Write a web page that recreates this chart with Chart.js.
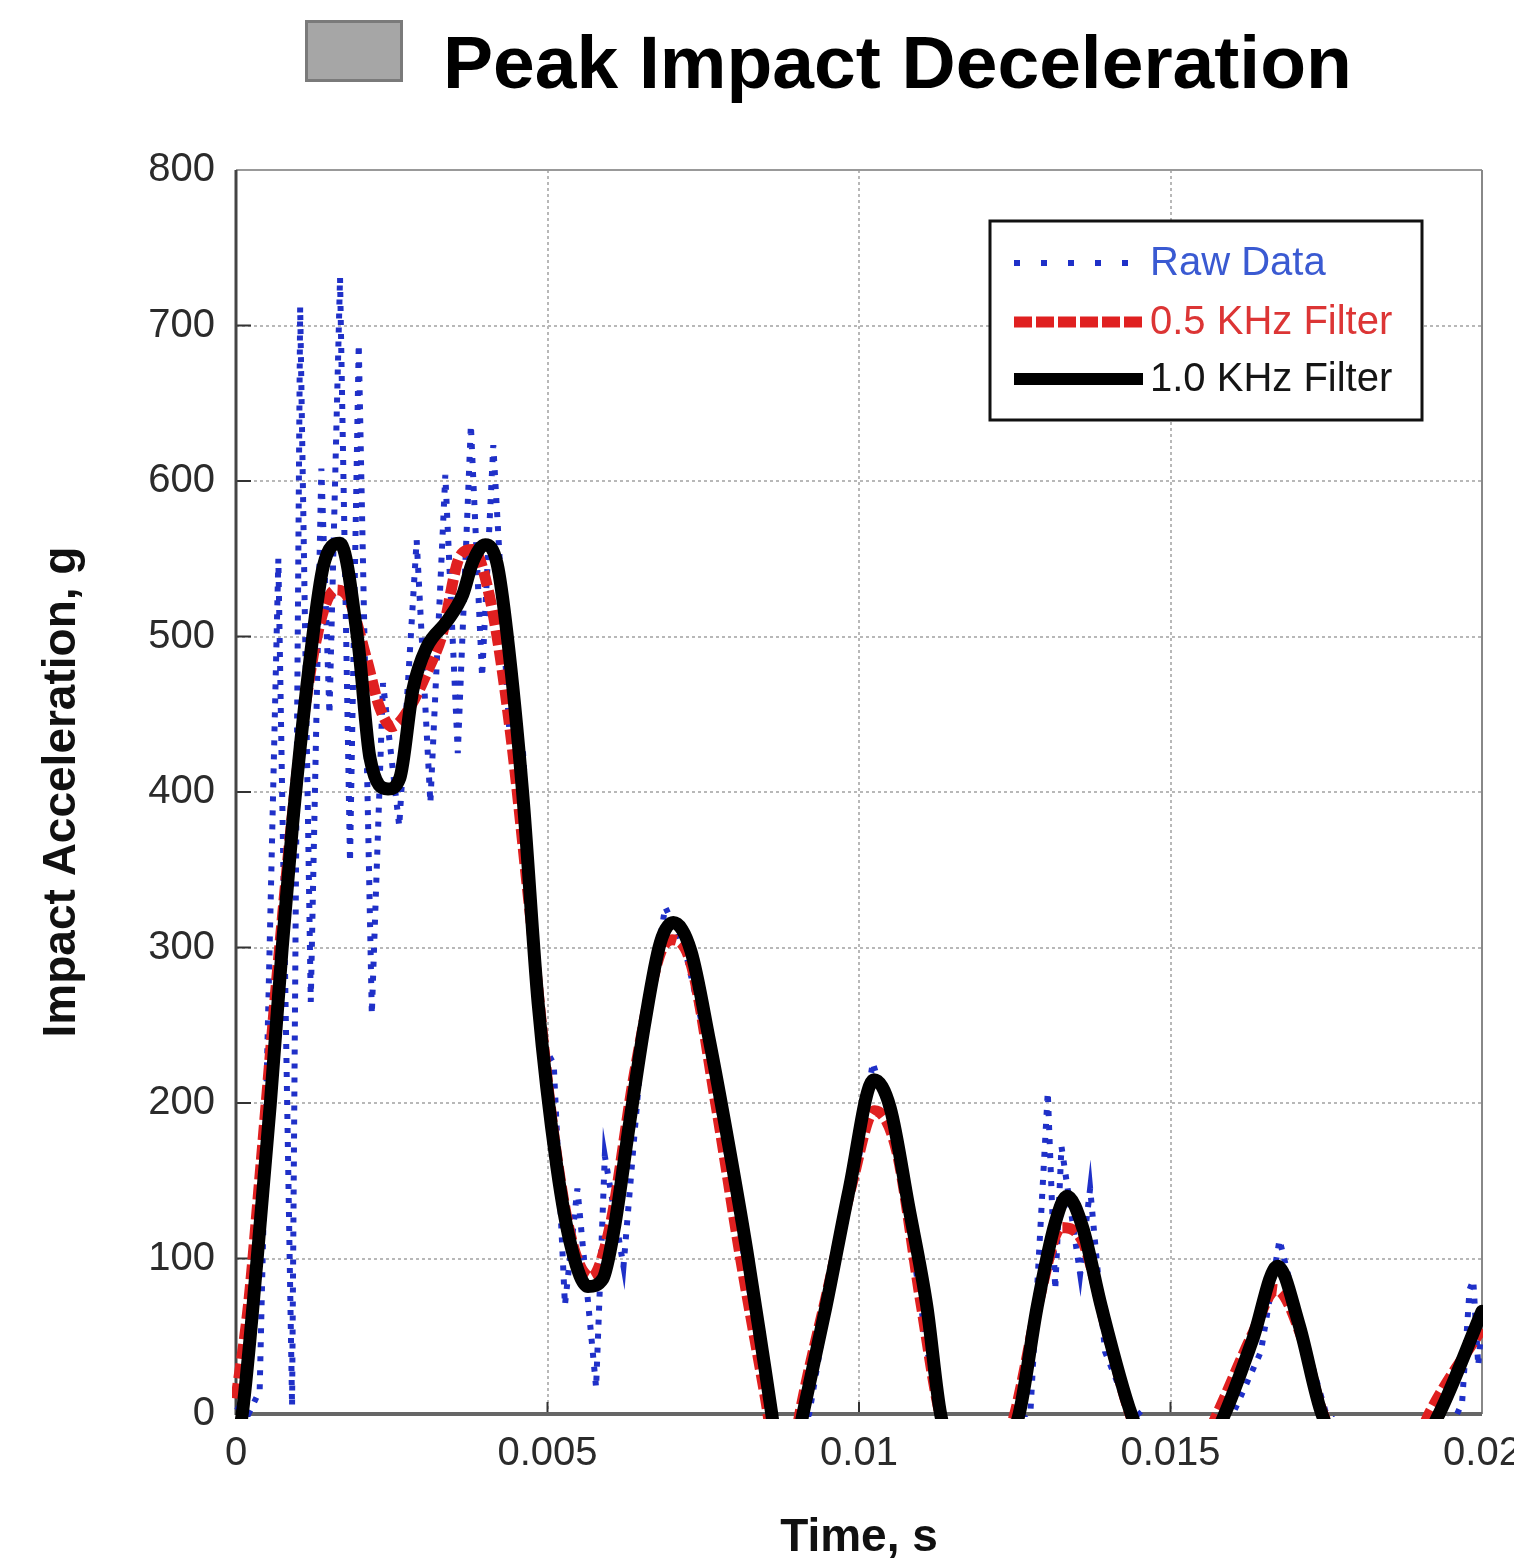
<!DOCTYPE html>
<html>
<head>
<meta charset="utf-8">
<title>Peak Impact Deceleration</title>
<script src="https://cdn.jsdelivr.net/npm/chart.js@4.4.1/dist/chart.umd.min.js"></script>
<style>
  html, body { margin: 0; padding: 0; background: #fff; }
  #wrap { position: relative; width: 1514px; height: 1561px; overflow: hidden; }
  #chart { position: absolute; left: 0; top: 0; }
  #swatch { position: absolute; left: 305px; top: 20px; width: 92px; height: 56px;
            background: #a6a6a6; border: 3px solid #7a7a7a; }
  #title { position: absolute; left: 443px; top: 25px; white-space: nowrap; color: #000;
           font: bold 75px/1 'Liberation Sans', Arial, sans-serif; }
</style>
</head>
<body>
<div id="wrap">
  <canvas id="chart" width="1514" height="1561"></canvas>
  <div id="swatch"></div>
  <div id="title">Peak Impact Deceleration</div>
</div>
<script>
// Impact acceleration traces (time in s, accel in g)
// values below zero are off the plotted range and get clipped at the axis
const rawTime = [0, 0.0002, 0.00038, 0.00068, 0.0009, 0.00103, 0.0012, 0.00137, 0.0015, 0.00167,
  0.00183, 0.00197, 0.00218, 0.00236, 0.00262, 0.0029, 0.00312, 0.00336, 0.00356, 0.00377,
  0.00395, 0.00413, 0.0044, 0.0046, 0.0049, 0.0051, 0.00528, 0.00548, 0.00578, 0.00592,
  0.00622, 0.0065, 0.00689, 0.0072, 0.0076, 0.008, 0.0084, 0.00862, 0.00885, 0.0092,
  0.00975, 0.01, 0.01022, 0.0105, 0.0108, 0.0111, 0.0113, 0.012, 0.01275, 0.01303,
  0.01315, 0.01325, 0.01355, 0.01371, 0.01395, 0.01425, 0.0145, 0.0152, 0.016, 0.01645,
  0.01675, 0.0171, 0.0175, 0.0185, 0.0196, 0.01968, 0.0198, 0.01986, 0.01994, 0.02];
const rawAccel = [5, 0, 15, 550, 5, 712, 265, 608, 450, 731,
  355, 688, 257, 470, 378, 562, 393, 604, 425, 636,
  474, 623, 430, 430, 240, 225, 70, 145, 17, 166,
  95, 230, 326, 300, 230, 140, 40, 0, -30, 0,
  130, 165, 226, 190, 125, 40, 0, -30, 0, 207,
  80, 172, 90, 145, 40, 10, 0, -30, 0, 40,
  112, 55, 0, -30, 0, 7, 80, 86, 31, 60];

const halfKhzTime = [0, 0.0002, 0.0004, 0.0007, 0.001, 0.0013, 0.0016, 0.0018, 0.0021, 0.0023,
  0.0025, 0.0028, 0.0031, 0.0033, 0.0036, 0.0038, 0.0041, 0.0044, 0.0047, 0.0051,
  0.0054, 0.0057, 0.006, 0.0064, 0.0068, 0.007, 0.0073, 0.0077, 0.0081, 0.0085,
  0.0088, 0.00905, 0.0095, 0.0099, 0.01025, 0.0106, 0.011, 0.0113, 0.012, 0.0125,
  0.0129, 0.01325, 0.0136, 0.014, 0.01435, 0.015, 0.01575, 0.0163, 0.0167, 0.0171,
  0.01745, 0.0185, 0.01915, 0.02];
const halfKhzAccel = [10, 70, 160, 300, 420, 500, 530, 525, 485, 455,
  442, 455, 480, 500, 552, 556, 520, 440, 330, 180,
  110, 88, 120, 220, 295, 305, 290, 200, 100, 10,
  -60, 0, 80, 150, 195, 170, 70, 0, -60, 0,
  75, 120, 110, 50, 0, -60, 0, 50, 80, 50,
  0, -60, 0, 55];

const oneKhzTime = [0, 0.0001, 0.00034, 0.00055, 0.00074, 0.00091, 0.00122, 0.0014, 0.00167, 0.00196,
  0.00215, 0.00244, 0.00263, 0.00284, 0.00306, 0.00339, 0.00364, 0.0038, 0.004, 0.00419,
  0.00435, 0.0046, 0.00485, 0.00515, 0.00539, 0.00565, 0.00589, 0.00607, 0.00631, 0.00656,
  0.00681, 0.00702, 0.0073, 0.0076, 0.0079, 0.0082, 0.00845, 0.0086, 0.0088, 0.0091,
  0.00947, 0.00984, 0.01024, 0.0105, 0.0108, 0.01109, 0.01131, 0.0119, 0.01257, 0.01286,
  0.01315, 0.01334, 0.01359, 0.01389, 0.01437, 0.0151, 0.01587, 0.01632, 0.01672, 0.01706,
  0.01743, 0.0184, 0.01931, 0.02];
const oneKhzAccel = [-20, 0, 100, 199, 299, 380, 496, 545, 560, 496,
  422, 402, 409, 466, 493, 510, 527, 548, 559, 547,
  502, 400, 264, 159, 106, 82, 87, 119, 185, 251,
  303, 316, 298, 240, 175, 105, 40, 0, -60, 0,
  69, 144, 215, 197, 133, 69, 0, -60, 0, 69,
  123, 140, 120, 69, 0, -60, 0, 48, 95, 58,
  0, -60, 0, 66];

const seriesLabels = ['Raw Data', '0.5 KHz Filter', '1.0 KHz Filter'];
const xTickValues = [0, 0.005, 0.01, 0.015, 0.02];
const xTickLabels = ['0', '0.005', '0.01', '0.015', '0.02'];
const yTickValues = [0, 100, 200, 300, 400, 500, 600, 700, 800];
const yTickLabels = ['0', '100', '200', '300', '400', '500', '600', '700', '800'];

const FONT = "'Liberation Sans', Arial, Helvetica, sans-serif";
Chart.defaults.font.family = FONT;

const toPoints = (xs, ys) => xs.map((x, i) => ({x: x, y: ys[i]}));

// inward tick marks and the box round the plot
const frame = {
  id: 'frame',
  beforeDatasetsDraw(chart) {
    const {ctx, chartArea: a, scales} = chart;
    const seg = (x1, y1, x2, y2) => { ctx.beginPath(); ctx.moveTo(x1, y1); ctx.lineTo(x2, y2); ctx.stroke(); };
    ctx.save();
    ctx.strokeStyle = '#333';
    ctx.lineWidth = 2;
    yTickValues.forEach(v => { const y = scales.y.getPixelForValue(v); seg(a.left, y, a.left + 15, y); });
    xTickValues.forEach(v => { const x = scales.x.getPixelForValue(v); seg(x, a.bottom, x, a.bottom - 12); });
    ctx.strokeStyle = '#999'; ctx.lineWidth = 2;
    seg(a.left, a.top, a.right, a.top);
    ctx.strokeStyle = '#888';
    seg(a.right, a.top, a.right, a.bottom);
    ctx.strokeStyle = '#444'; ctx.lineWidth = 3;
    seg(a.left, a.top, a.left, a.bottom + 1);
    ctx.strokeStyle = '#666'; ctx.lineWidth = 4;
    seg(a.left, a.bottom, a.right, a.bottom);
    ctx.restore();
  }
};

// boxed legend in the upper right of the plot
const boxLegend = {
  id: 'boxLegend',
  afterDraw(chart) {
    const {ctx, chartArea: a} = chart;
    const x0 = a.right - 492, y0 = a.top + 51, w = 432, h = 199;
    const rowY = [42, 101, 158];
    const textColors = ['#3a5ad2', '#dc3535', '#151515'];
    ctx.save();
    ctx.fillStyle = '#fff';
    ctx.fillRect(x0, y0, w, h);
    ctx.strokeStyle = '#111';
    ctx.lineWidth = 3;
    ctx.strokeRect(x0, y0, w, h);
    chart.data.datasets.forEach((ds, i) => {
      const y = y0 + rowY[i];
      ctx.beginPath();
      ctx.strokeStyle = ds.borderColor;
      ctx.lineWidth = ds.legendWidth;
      ctx.lineCap = 'butt';
      ctx.setLineDash(ds.legendDash);
      ctx.moveTo(x0 + 24, y);
      ctx.lineTo(x0 + 153, y);
      ctx.stroke();
      ctx.setLineDash([]);
      ctx.fillStyle = textColors[i];
      ctx.font = '40px ' + FONT;
      ctx.textBaseline = 'middle';
      ctx.fillText(ds.label, x0 + 160, y + 1);
    });
    ctx.restore();
  }
};

new Chart(document.getElementById('chart'), {
  type: 'line',
  data: {
    datasets: [{
      label: seriesLabels[0],
      data: toPoints(rawTime, rawAccel),
      borderColor: '#1f30c8',
      borderWidth: 6,
      borderDash: [5, 9],
      borderCapStyle: 'butt',
      legendDash: [6, 21],
      legendWidth: 6,
      tension: 0,
      pointRadius: 0,
      order: 3,
      clip: {left: 2, top: 0, right: 1, bottom: 3}
    }, {
      label: seriesLabels[1],
      data: toPoints(halfKhzTime, halfKhzAccel),
      borderColor: '#e02020',
      borderWidth: 11,
      borderDash: [15, 5],
      borderCapStyle: 'butt',
      legendDash: [18, 4],
      legendWidth: 11,
      cubicInterpolationMode: 'monotone',
      pointRadius: 0,
      order: 2,
      clip: {left: 4, top: 0, right: 1, bottom: 5}
    }, {
      label: seriesLabels[2],
      data: toPoints(oneKhzTime, oneKhzAccel),
      borderColor: '#000',
      borderWidth: 13,
      borderCapStyle: 'round',
      borderJoinStyle: 'round',
      legendDash: [],
      legendWidth: 12,
      cubicInterpolationMode: 'monotone',
      pointRadius: 0,
      order: 1,
      clip: {left: 4, top: 0, right: 1, bottom: 5}
    }]
  },
  options: {
    responsive: false,
    devicePixelRatio: 1,
    animation: false,
    events: [],
    layout: {padding: {left: 0, top: 170, right: 32, bottom: 0}},
    plugins: {
      legend: {display: false},
      tooltip: {enabled: false}
    },
    scales: {
      x: {
        type: 'linear',
        min: 0,
        max: 0.02,
        afterBuildTicks: s => { s.ticks = xTickValues.map(v => ({value: v})); },
        afterFit: s => { s.height = 147; s.paddingLeft = 0; s.paddingRight = 0; },
        ticks: {
          callback: (v, i) => xTickLabels[i],
          color: '#2b2b2b',
          font: {size: 40},
          padding: 16,
          maxRotation: 0,
          autoSkip: false
        },
        grid: {color: '#b8b8b8', lineWidth: 2, drawTicks: false},
        border: {display: false, dash: [3, 3]},
        title: {
          display: true,
          text: 'Time, s',
          color: '#111',
          font: {size: 46, weight: 'bold', lineHeight: 1},
          padding: {top: 0, bottom: 0}
        }
      },
      y: {
        min: 0,
        max: 800,
        afterBuildTicks: s => { s.ticks = yTickValues.map(v => ({value: v})); },
        afterFit: s => { s.width = 236; s.paddingTop = 0; s.paddingBottom = 0; },
        ticks: {
          callback: (v, i) => yTickLabels[i],
          color: '#2b2b2b',
          font: {size: 40},
          padding: 21,
          autoSkip: false
        },
        grid: {color: '#b8b8b8', lineWidth: 2, drawTicks: false},
        border: {display: false, dash: [3, 3]},
        title: {
          display: true,
          text: 'Impact Acceleration, g',
          color: '#111',
          font: {size: 46, weight: 'bold', lineHeight: 1.2},
          padding: {top: 35, bottom: 0}
        }
      }
    }
  },
  plugins: [frame, boxLegend]
});
</script>
</body>
</html>
